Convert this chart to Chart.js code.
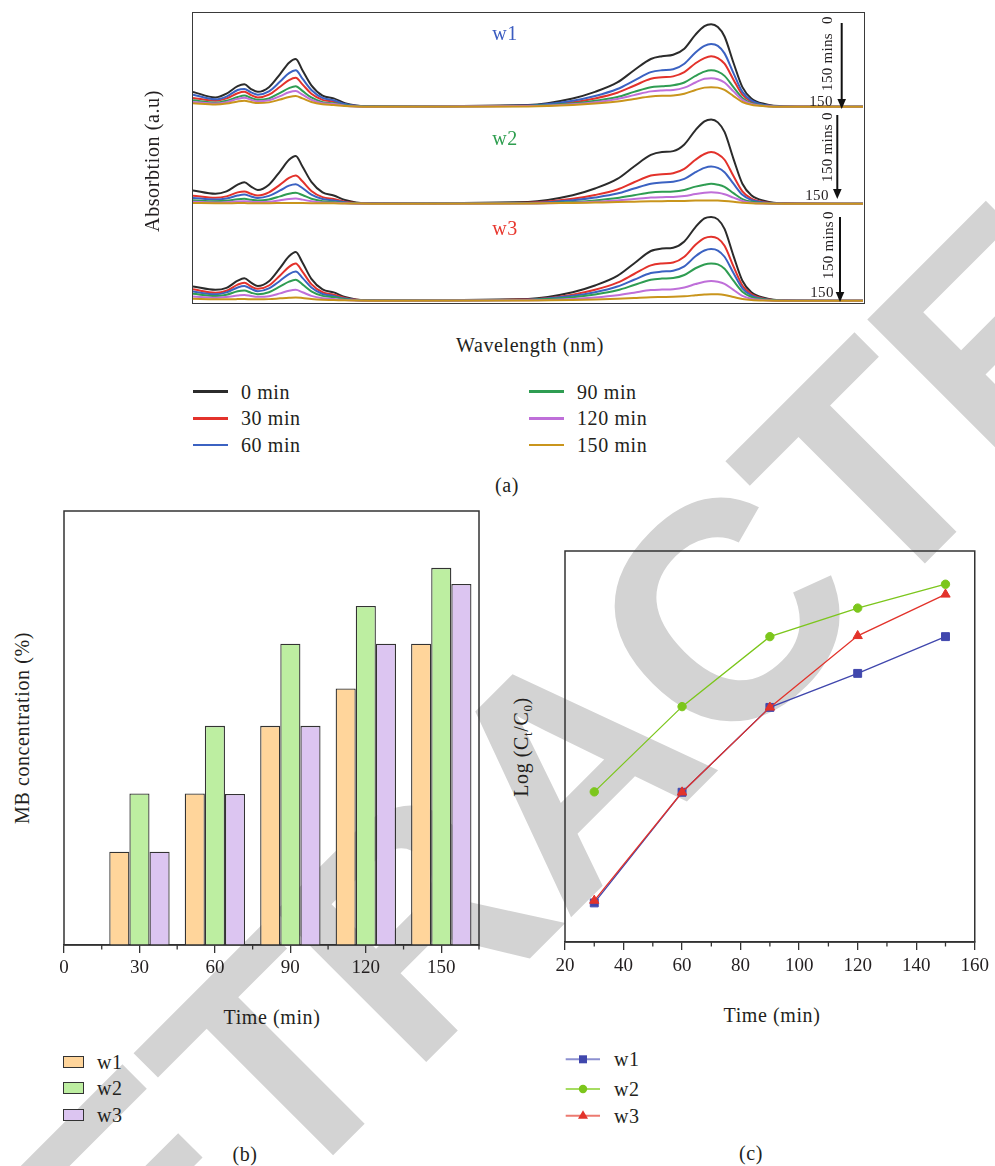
<!DOCTYPE html>
<html><head><meta charset="utf-8">
<script src="https://cdn.jsdelivr.net/npm/chart.js@4.4.1/dist/chart.umd.min.js"></script>
<style>
html,body{margin:0;padding:0;background:#fff;}
body{width:995px;height:1166px;position:relative;overflow:hidden;font-family:'Liberation Serif',serif;color:#231f20;}
.abs{position:absolute;z-index:2;}
.t{position:absolute;z-index:2;font-size:20px;letter-spacing:0.6px;white-space:nowrap;line-height:1;}
.s{font-size:15px;letter-spacing:0.3px;}
.c{transform:translate(-50%,-50%);}
.rot{transform:translate(-50%,-50%) rotate(-90deg);}
.lc{transform:translateY(-50%);}
.cv{position:absolute;z-index:1;}
#wm{position:absolute;z-index:0;left:567px;top:770px;transform:translate(-50%,-50%) rotate(-45deg);font-family:'Liberation Sans',sans-serif;font-weight:bold;font-size:310px;line-height:310px;letter-spacing:-6px;color:#d3d3d3;white-space:nowrap;}
sub{font-size:13px;vertical-align:-4px;line-height:0;}
</style></head><body>
<div id="wm">RETRACTED</div>

<!-- (a) spectra -->
<div class="cv" style="left:193px;top:13px;width:670px;height:95px;"><canvas id="pa1"></canvas></div>
<div class="cv" style="left:193px;top:108px;width:670px;height:97px;"><canvas id="pa2"></canvas></div>
<div class="cv" style="left:193px;top:205px;width:670px;height:97px;"><canvas id="pa3"></canvas></div>
<div class="abs" style="left:192px;top:12px;width:671px;height:290px;border:1.5px solid #3a3a3a;"></div>

<div class="t c" style="left:505px;top:33px;color:#3b5cc0;">w1</div>
<div class="t c" style="left:505px;top:138px;color:#2e9e4f;">w2</div>
<div class="t c" style="left:505px;top:228px;color:#e8372e;">w3</div>

<svg class="abs" style="left:0;top:0;" width="995" height="320">
  <g stroke="#111" stroke-width="2">
    <line x1="841.7" y1="23" x2="841.7" y2="100"/>
    <line x1="837.3" y1="115" x2="837.3" y2="190"/>
    <line x1="840" y1="217" x2="840" y2="293"/>
  </g>
  <g fill="#111">
    <polygon points="837.4,99 846,99 841.7,109"/>
    <polygon points="833,189 841.6,189 837.3,199"/>
    <polygon points="835.7,292 844.3,292 840,302"/>
  </g>
</svg>
<div class="t s rot" style="left:827px;top:20px;">0</div>
<div class="t s rot" style="left:827px;top:62px;">150 mins</div>
<div class="t s c" style="left:821px;top:101px;">150</div>
<div class="t s rot" style="left:827px;top:116px;">0</div>
<div class="t s rot" style="left:827px;top:153px;">150 mins</div>
<div class="t s c" style="left:817px;top:195px;">150</div>
<div class="t s rot" style="left:828px;top:215px;">0</div>
<div class="t s rot" style="left:828px;top:250px;">150 mins</div>
<div class="t s c" style="left:822px;top:292px;">150</div>

<div class="t rot" style="left:152px;top:161px;">Absorbtion (a.u)</div>
<div class="t c" style="left:530px;top:345px;">Wavelength (nm)</div>

<div id="legA"></div>
<div class="t c" style="left:507px;top:485px;">(a)</div>

<!-- (b) bars -->
<div class="cv" style="left:44px;top:501px;width:455px;height:484px;"><canvas id="pb"></canvas></div>
<div class="t rot" style="left:22px;top:728px;">MB concentration (%)</div>
<div class="t c" style="left:272px;top:1017px;">Time (min)</div>
<div id="legB"></div>
<div class="t c" style="left:245px;top:1154px;">(b)</div>

<!-- (c) lines -->
<div class="cv" style="left:545px;top:541px;width:449px;height:441px;"><canvas id="pc"></canvas></div>
<div class="t rot" style="left:521px;top:747px;">Log (C<sub>t</sub>/C<sub>0</sub>)</div>
<div class="t c" style="left:772px;top:1015px;">Time (min)</div>
<svg class="abs" style="left:0;top:1040px;" width="700" height="100" id="legCsvg"></svg>
<div id="legC"></div>
<div class="t c" style="left:751px;top:1153px;">(c)</div>

<script>
// ---------- (a) UV-vis spectra ----------
const wavelengths = [200,220,230,240,246,252,258,268,278,286, 292,298,306,316,326,336,346,360,500,540, 560,580,595,610,620,630,640,650,658,664, 670,676,684,692,700,712,730,800];
const timeLabels = ['0 min','30 min','60 min','90 min','120 min','150 min'];
const timeColors = ['#2b2b2b','#e3322b','#3b62c2','#2f9d52','#bf6fd9','#c9951c'];

const w1_0   = [0.16,0.10,0.14,0.22,0.24,0.19,0.16,0.21,0.35,0.47, 0.51,0.39,0.23,0.12,0.09,0.04,0.015,0.006,0.02,0.09, 0.16,0.26,0.39,0.51,0.54,0.555,0.62,0.77,0.86,0.88, 0.85,0.75,0.47,0.21,0.09,0.03,0.005,0];
const w1_30  = [0.095,0.065,0.09,0.145,0.16,0.125,0.10,0.13,0.215,0.285, 0.31,0.24,0.14,0.075,0.055,0.025,0.01,0.004,0.012,0.05, 0.09,0.15,0.225,0.30,0.315,0.325,0.37,0.465,0.52,0.54, 0.52,0.46,0.29,0.13,0.055,0.018,0.003,0];
const w1_60  = [0.13,0.08,0.11,0.18,0.19,0.155,0.13,0.165,0.27,0.36, 0.39,0.30,0.18,0.095,0.07,0.03,0.012,0.005,0.015,0.065, 0.115,0.19,0.28,0.37,0.39,0.40,0.46,0.58,0.65,0.67, 0.65,0.57,0.36,0.16,0.07,0.02,0.004,0];
const w1_90  = [0.07,0.045,0.065,0.105,0.12,0.095,0.075,0.09,0.15,0.20, 0.22,0.17,0.10,0.05,0.038,0.017,0.007,0.003,0.01,0.035, 0.065,0.105,0.16,0.21,0.22,0.23,0.26,0.33,0.375,0.39, 0.375,0.33,0.21,0.095,0.04,0.013,0.002,0];
const w1_120 = [0.053,0.035,0.05,0.085,0.097,0.075,0.058,0.07,0.115,0.155, 0.168,0.13,0.076,0.04,0.03,0.013,0.005,0.002,0.008,0.028, 0.05,0.085,0.125,0.165,0.175,0.18,0.205,0.26,0.30,0.305, 0.295,0.26,0.165,0.075,0.032,0.01,0.002,0];
const w1_150 = [0.038,0.025,0.035,0.058,0.066,0.052,0.04,0.048,0.078,0.105, 0.115,0.09,0.052,0.028,0.02,0.009,0.004,0.002,0.005,0.02, 0.035,0.058,0.085,0.11,0.118,0.122,0.14,0.18,0.205,0.21, 0.205,0.18,0.115,0.052,0.022,0.007,0.001,0];

const w2_0   = [0.14,0.105,0.13,0.20,0.225,0.18,0.145,0.20,0.34,0.46, 0.50,0.39,0.23,0.12,0.087,0.04,0.015,0.006,0.02,0.09, 0.16,0.26,0.39,0.51,0.54,0.55,0.62,0.77,0.86,0.88, 0.85,0.75,0.47,0.21,0.09,0.03,0.005,0];
const w2_30  = [0.085,0.063,0.078,0.12,0.13,0.105,0.087,0.12,0.20,0.27, 0.295,0.235,0.135,0.07,0.05,0.023,0.009,0.004,0.012,0.052, 0.092,0.15,0.225,0.295,0.31,0.32,0.365,0.46,0.52,0.54, 0.52,0.46,0.29,0.13,0.055,0.018,0.003,0];
const w2_60  = [0.062,0.046,0.056,0.087,0.097,0.077,0.062,0.083,0.14,0.19, 0.205,0.165,0.095,0.05,0.036,0.017,0.006,0.003,0.009,0.037, 0.066,0.107,0.16,0.21,0.222,0.23,0.26,0.33,0.375,0.39, 0.375,0.33,0.21,0.095,0.04,0.013,0.002,0];
const w2_90  = [0.037,0.027,0.032,0.048,0.052,0.042,0.034,0.046,0.078,0.106, 0.115,0.092,0.053,0.028,0.02,0.009,0.004,0.002,0.005,0.02, 0.036,0.06,0.09,0.118,0.125,0.128,0.145,0.18,0.20,0.21, 0.20,0.178,0.112,0.05,0.021,0.007,0.001,0];
const w2_120 = [0.021,0.015,0.018,0.025,0.027,0.022,0.018,0.023,0.038,0.051, 0.055,0.044,0.026,0.014,0.011,0.005,0.002,0.001,0.003,0.012, 0.021,0.034,0.05,0.066,0.07,0.072,0.082,0.102,0.115,0.12, 0.115,0.10,0.065,0.03,0.012,0.004,0.001,0];
const w2_150 = [0.008,0.007,0.007,0.008,0.008,0.007,0.007,0.007,0.008,0.009, 0.009,0.008,0.007,0.006,0.005,0.004,0.003,0.002,0.004,0.01, 0.014,0.018,0.022,0.026,0.028,0.029,0.031,0.034,0.035,0.035, 0.034,0.03,0.022,0.012,0.006,0.003,0.001,0];

const w3_0   = [0.15,0.115,0.135,0.21,0.235,0.19,0.155,0.205,0.345,0.465, 0.51,0.40,0.23,0.12,0.088,0.04,0.015,0.006,0.02,0.09, 0.16,0.26,0.39,0.52,0.545,0.555,0.62,0.77,0.86,0.875, 0.85,0.75,0.47,0.21,0.09,0.03,0.005,0];
const w3_30  = [0.12,0.085,0.105,0.17,0.19,0.15,0.125,0.16,0.265,0.355, 0.39,0.305,0.175,0.09,0.065,0.03,0.012,0.005,0.015,0.065, 0.115,0.19,0.28,0.37,0.39,0.40,0.46,0.585,0.655,0.67, 0.65,0.575,0.36,0.16,0.07,0.02,0.004,0];
const w3_60  = [0.097,0.068,0.088,0.14,0.155,0.125,0.10,0.13,0.21,0.28, 0.305,0.24,0.14,0.072,0.052,0.024,0.01,0.004,0.012,0.052, 0.09,0.15,0.22,0.29,0.305,0.315,0.36,0.465,0.525,0.54, 0.525,0.46,0.29,0.13,0.056,0.017,0.003,0];
const w3_90  = [0.073,0.05,0.063,0.10,0.107,0.085,0.07,0.09,0.15,0.20, 0.22,0.172,0.10,0.052,0.039,0.018,0.007,0.003,0.01,0.037, 0.066,0.11,0.165,0.22,0.232,0.238,0.27,0.34,0.38,0.39, 0.38,0.335,0.21,0.095,0.04,0.013,0.002,0];
const w3_120 = [0.045,0.032,0.04,0.055,0.062,0.05,0.042,0.048,0.078,0.105, 0.115,0.09,0.052,0.028,0.02,0.009,0.004,0.002,0.006,0.02, 0.035,0.058,0.085,0.112,0.118,0.122,0.14,0.175,0.20,0.208, 0.20,0.178,0.115,0.052,0.022,0.007,0.001,0];
const w3_150 = [0.021,0.017,0.017,0.018,0.019,0.017,0.016,0.018,0.026,0.032, 0.035,0.03,0.02,0.012,0.009,0.005,0.003,0.002,0.004,0.01, 0.015,0.022,0.03,0.038,0.04,0.042,0.048,0.058,0.066,0.07, 0.068,0.06,0.04,0.02,0.009,0.003,0.001,0];

// ---------- (b) MB concentration ----------
const barTimes = [30,60,90,120,150];
const concW1 = [21.5,34.9,50.5,59.1,69.4];
const concW2 = [34.9,50.5,69.4,78.1,86.9];
const concW3 = [21.5,34.8,50.5,69.4,83.2];
const barTicks = [0,30,60,90,120,150];
const barMinorTicks = [15,45,75,105,135,165];

// ---------- (c) Log(Ct/C0) ----------
const lineTimes = [30,60,90,120,150];
const logW1 = [0.100,0.383,0.600,0.687,0.781];
const logW2 = [0.384,0.602,0.781,0.854,0.915];
const logW3 = [0.106,0.383,0.600,0.783,0.889];
const lineTicks = [20,40,60,80,100,120,140,160];
const lineMinorTicks = [30,50,70,90,110,130,150];

const seriesNames = ['w1','w2','w3'];
const barFills = ['#ffd59b','#bdeea1','#dcc5f1'];
const lineColors = ['#4047ad','#7cc61c','#e2332b'];
const legendLineColors = ['#8c90d0','#a6dc62','#ec7a70'];

const serif = "'Liberation Serif', serif";
const ink = '#231f20';

function spectrum(id, series) {
  new Chart(document.getElementById(id), {
    type: 'line',
    data: {
      datasets: series.map((s, i) => ({
        label: timeLabels[i],
        data: wavelengths.map((w, j) => ({x: w, y: s[j]})),
        borderColor: timeColors[i],
        borderWidth: 2,
        pointRadius: 0,
        cubicInterpolationMode: 'monotone',
        fill: false,
        order: 5 - i
      }))
    },
    options: {
      animation: false, responsive: true, maintainAspectRatio: false,
      layout: {padding: 0},
      plugins: {legend: {display: false}, tooltip: {enabled: false}},
      scales: {
        x: {type: 'linear', min: 200, max: 800, display: false},
        y: {min: -0.012, max: 1, display: false}
      }
    }
  });
}
spectrum('pa1', [w1_0, w1_30, w1_60, w1_90, w1_120, w1_150]);
spectrum('pa2', [w2_0, w2_30, w2_60, w2_90, w2_120, w2_150]);
spectrum('pa3', [w3_0, w3_30, w3_60, w3_90, w3_120, w3_150]);

function boxPlugin(minor) {
  return {
    id: 'boxMinor',
    afterDraw(chart) {
      const {ctx, chartArea: a, scales: {x}} = chart;
      ctx.save();
      ctx.strokeStyle = '#333';
      ctx.lineWidth = 1.5;
      ctx.strokeRect(a.left, a.top, a.right - a.left, a.bottom - a.top);
      ctx.lineWidth = 1.3;
      minor.forEach(v => {
        const px = x.getPixelForValue(v);
        ctx.beginPath(); ctx.moveTo(px, a.bottom); ctx.lineTo(px, a.bottom + 4.5); ctx.stroke();
      });
      ctx.restore();
    }
  };
}

function xAxis(min, max, ticks, pad) {
  return {
    type: 'linear', min, max, offset: false,
    afterBuildTicks: s => { s.ticks = ticks.map(v => ({value: v})); },
    afterFit: s => { s.height = 40; },
    ticks: {font: {family: serif, size: 19}, color: ink, padding: pad, maxRotation: 0, autoSkip: false},
    grid: {display: true, drawOnChartArea: false, drawTicks: true, tickLength: 8, color: '#333', lineWidth: 1.3, offset: false},
    border: {display: true, color: '#333', width: 1.5}
  };
}

const concSeries = [concW1, concW2, concW3];
new Chart(document.getElementById('pb'), {
  type: 'bar',
  data: {
    datasets: concSeries.map((d, i) => ({
      label: seriesNames[i],
      data: barTimes.map((t, j) => ({x: t, y: d[j]})),
      backgroundColor: barFills[i],
      borderColor: '#333',
      borderWidth: 1.3,
      borderSkipped: 'bottom',
      categoryPercentage: 0.8,
      barPercentage: 1.0
    }))
  },
  options: {
    animation: false, responsive: true, maintainAspectRatio: false,
    layout: {padding: {left: 20, right: 20, top: 10, bottom: 0}},
    plugins: {legend: {display: false}, tooltip: {enabled: false}},
    scales: {
      x: xAxis(0, 165, barTicks, 4),
      y: {min: 0, max: 100, display: false}
    }
  },
  plugins: [boxPlugin(barMinorTicks)]
});

const logSeries = [logW1, logW2, logW3];
const pStyles = ['rect', 'circle', 'triangle'];
const pRadius = [5.6, 4.2, 5.4];
new Chart(document.getElementById('pc'), {
  type: 'line',
  data: {
    datasets: logSeries.map((d, i) => ({
      label: seriesNames[i],
      data: lineTimes.map((t, j) => ({x: t, y: d[j]})),
      borderColor: lineColors[i],
      backgroundColor: lineColors[i],
      borderWidth: 1.3,
      pointStyle: pStyles[i],
      pointRadius: pRadius[i],
      pointBorderWidth: 1,
      tension: 0,
      fill: false,
      order: i === 2 ? 0 : (i === 0 ? 1 : 2)
    }))
  },
  options: {
    animation: false, responsive: true, maintainAspectRatio: false,
    layout: {padding: {left: 20, right: 16, top: 10, bottom: 0}},
    plugins: {legend: {display: false}, tooltip: {enabled: false}},
    scales: {
      x: xAxis(20, 160, lineTicks, 5),
      y: {min: 0, max: 1, display: false}
    }
  },
  plugins: [boxPlugin(lineMinorTicks)]
});

// ---------- legends (HTML) ----------
const legA = document.getElementById('legA');
const legARows = [391.7, 418.3, 445];
timeLabels.forEach((lab, i) => {
  const col = i < 3 ? 0 : 1;
  const row = i % 3;
  const lx = col ? 529 : 193;
  const tx = col ? 577 : 241;
  const y = legARows[row];
  legA.insertAdjacentHTML('beforeend',
    `<div class="abs" style="left:${lx}px;top:${y - 1.25}px;width:35px;height:2.5px;background:${timeColors[i]};"></div>` +
    `<div class="t lc" style="left:${tx}px;top:${y}px;">${lab}</div>`);
});

const legB = document.getElementById('legB');
const legBRows = [1061.5, 1088.3, 1115];
seriesNames.forEach((n, i) => {
  const y = legBRows[i];
  legB.insertAdjacentHTML('beforeend',
    `<div class="abs" style="left:63px;top:${y - 6}px;width:19px;height:10px;border:1.3px solid #333;background:${barFills[i]};"></div>` +
    `<div class="t lc" style="left:97px;top:${y}px;">${n}</div>`);
});

const legC = document.getElementById('legC');
const svg = document.getElementById('legCsvg');
const legCRows = [1059.3, 1089, 1115.7];
let svgHtml = '';
seriesNames.forEach((n, i) => {
  const y = legCRows[i] - 1040;
  svgHtml += `<line x1="565.7" y1="${y}" x2="600" y2="${y}" stroke="${legendLineColors[i]}" stroke-width="2"/>`;
  if (i === 0) svgHtml += `<rect x="579" y="${y - 4}" width="8" height="8" fill="${lineColors[i]}"/>`;
  if (i === 1) svgHtml += `<circle cx="583" cy="${y}" r="4.2" fill="${lineColors[i]}"/>`;
  if (i === 2) svgHtml += `<polygon points="583,${y - 5.5} 588,${y + 3} 578,${y + 3}" fill="${lineColors[i]}"/>`;
  legC.insertAdjacentHTML('beforeend', `<div class="t lc" style="left:614px;top:${legCRows[i]}px;">${n}</div>`);
});
svg.innerHTML = svgHtml;
</script>
</body></html>
